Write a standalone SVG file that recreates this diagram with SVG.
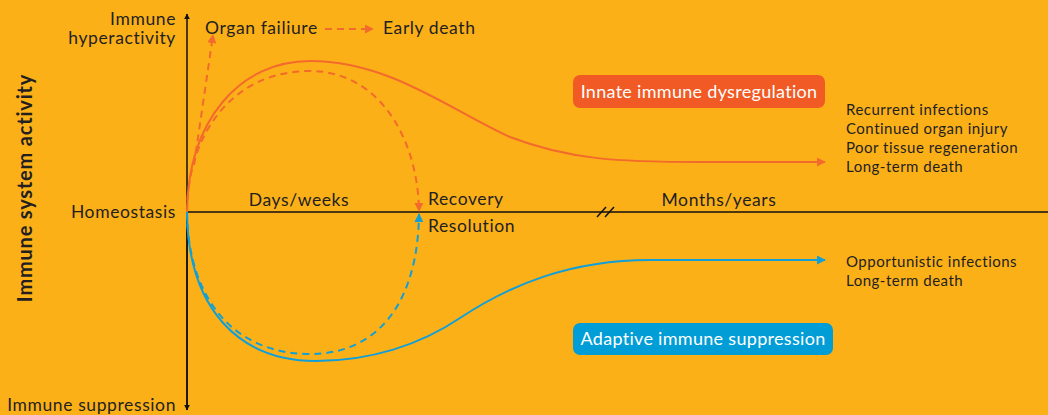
<svg xmlns="http://www.w3.org/2000/svg" width="1048" height="415" viewBox="0 0 1048 415">
<style>
text{font-family:Lato,"Open Sans","Liberation Sans",sans-serif;fill:#231f20}
.lbl{font-size:17.5px;letter-spacing:0.6px}
.sm{font-size:15px;letter-spacing:0.5px}
.box{font-size:18px;letter-spacing:0.3px;fill:#ffffff}
.ax{stroke:#111;stroke-width:1.5;fill:none}
.or{stroke:#f26a2c;stroke-width:2;fill:none}
.bl{stroke:#109fd8;stroke-width:2;fill:none}
.dash{stroke-dasharray:7 5}
</style>
<defs>
<marker id="ak" viewBox="0 0 10 10" refX="9" refY="5" markerWidth="6" markerHeight="6" orient="auto" markerUnits="userSpaceOnUse"><path d="M0,0 L10,5 L0,10 z" fill="#111"/></marker>
<marker id="ao" viewBox="0 0 10 10" refX="9" refY="5" markerWidth="9" markerHeight="9" orient="auto" markerUnits="userSpaceOnUse"><path d="M0,0 L10,5 L0,10 z" fill="#f26a2c"/></marker>
<marker id="ab" viewBox="0 0 10 10" refX="9" refY="5" markerWidth="9" markerHeight="9" orient="auto" markerUnits="userSpaceOnUse"><path d="M0,0 L10,5 L0,10 z" fill="#109fd8"/></marker>
</defs>
<rect width="1048" height="415" fill="#fcb018"/>
<g id="axes">
<line class="ax" x1="187" y1="410" x2="187" y2="14" marker-end="url(#ak)"/>
<line class="ax" x1="187" y1="212" x2="187" y2="410" marker-end="url(#ak)"/>
<line class="ax" x1="187" y1="212" x2="1048" y2="212"/>
<line class="ax" x1="597" y1="217" x2="606" y2="207"/>
<line class="ax" x1="605" y1="217" x2="614" y2="207"/>
</g>
<g id="connectors">
<path class="or" d="M187,212 C188,120 240,61 310,61 C390,61 450,110 510,137 C570,160 620,162 700,162 L825,162" marker-end="url(#ao)"/>
<path class="or dash" d="M187,212 C188,130 235,71 310,71 C380,71 418,140 419,211" marker-end="url(#ao)"/>
<path class="or dash" d="M194,165 L213,35" marker-end="url(#ao)"/>
<path class="or dash" d="M325,29 L373,29" marker-end="url(#ao)"/>
<path class="bl" d="M187,212 C188,310 240,361 316,361 C370,361 420,345 460,318 C510,285 570,260 650,260 L825,260" marker-end="url(#ab)"/>
<path class="bl dash" d="M187,212 C188,300 235,354 310,354 C380,354 418,300 419,214" marker-end="url(#ab)"/>
</g>
<g id="axis-labels">
<text class="lbl" x="176" y="25" text-anchor="end">Immune</text>
<text class="lbl" x="176" y="44" text-anchor="end">hyperactivity</text>
<text class="lbl" x="176" y="218" text-anchor="end">Homeostasis</text>
<text class="lbl" x="176" y="411" text-anchor="end">Immune suppression</text>
<text x="32" y="188" text-anchor="middle" transform="rotate(-90 32 188)" style="font-size:20px;font-weight:bold;letter-spacing:0.8px">Immune system activity</text>
<text class="lbl" x="299" y="206" text-anchor="middle">Days/weeks</text>
<text class="lbl" x="719" y="206" text-anchor="middle">Months/years</text>
</g>
<g id="node-organ"><text class="lbl" x="205" y="34">Organ failiure</text></g>
<g id="node-early"><text class="lbl" x="383" y="34">Early death</text></g>
<g id="node-recovery"><text class="lbl" x="428" y="205">Recovery</text></g>
<g id="node-resolution"><text class="lbl" x="428" y="232">Resolution</text></g>
<g id="node-innate">
<rect x="573" y="75" width="252" height="33" rx="7" fill="#f15a24"/>
<text class="box" x="699" y="98" text-anchor="middle">Innate immune dysregulation</text>
</g>
<g id="node-adaptive">
<rect x="573" y="323" width="260" height="32" rx="7" fill="#009dd6"/>
<text class="box" x="703" y="345" text-anchor="middle">Adaptive immune suppression</text>
</g>
<g id="node-innate-outcomes">
<text class="sm" x="846" y="115">Recurrent infections</text>
<text class="sm" x="846" y="134">Continued organ injury</text>
<text class="sm" x="846" y="153">Poor tissue regeneration</text>
<text class="sm" x="846" y="172">Long-term death</text>
</g>
<g id="node-adaptive-outcomes">
<text class="sm" x="846" y="267">Opportunistic infections</text>
<text class="sm" x="846" y="286">Long-term death</text>
</g>
</svg>
